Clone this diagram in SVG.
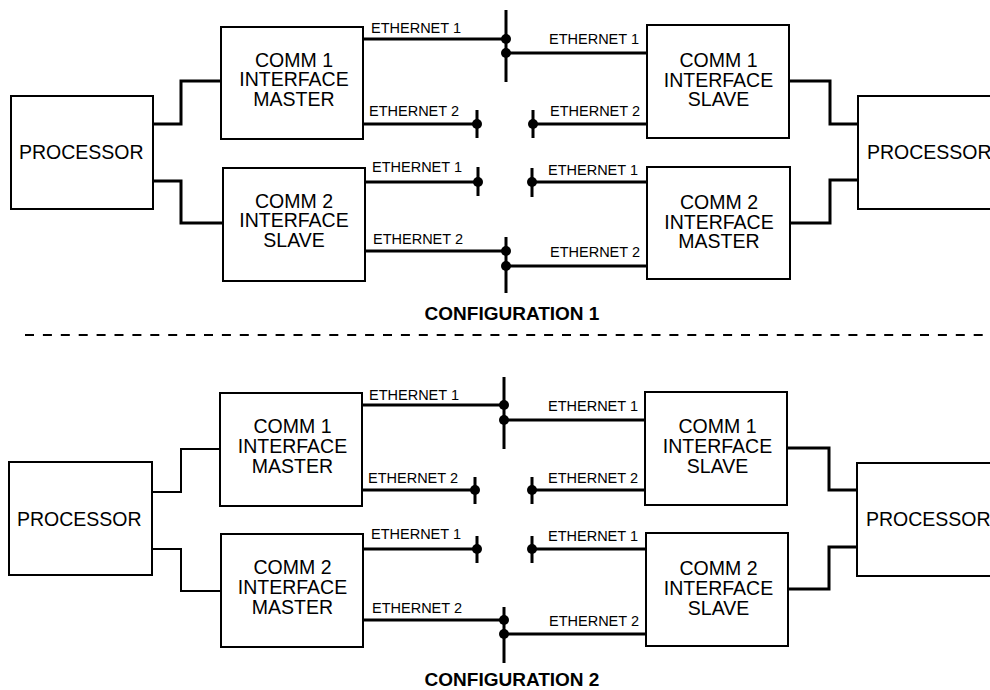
<svg xmlns="http://www.w3.org/2000/svg" width="990" height="690" viewBox="0 0 990 690">
  <style>
    .box { fill: #fff; stroke: #000; stroke-width: 2; }
    .wire { fill: none; stroke: #000; stroke-width: 3; }
    .thin { fill: none; stroke: #000; stroke-width: 2; }
    .dot { fill: #000; }
    .name { font-family: "Liberation Sans", Arial, sans-serif; font-size: 19.5px; text-anchor: middle; fill: #000; }
    .proc { font-family: "Liberation Sans", Arial, sans-serif; font-size: 19.5px; fill: #000; }
    .eth { font-family: "Liberation Sans", Arial, sans-serif; font-size: 14.5px; fill: #000; }
    .title { font-family: "Liberation Sans", Arial, sans-serif; font-size: 19px; font-weight: bold; text-anchor: middle; fill: #000; }
    .divider { stroke: #000; stroke-width: 2; stroke-dasharray: 9 8.9; }
  </style>
  <rect width="990" height="690" fill="#fff"/>

  <!-- ===== Configuration 1 ===== -->
  <g id="c1-connectors">
    <!-- processor to interfaces, left -->
    <path class="wire" d="M153,124 H181 V81 H221"/>
    <path class="wire" d="M153,181 H181 V223 H223"/>
    <!-- processor to interfaces, right -->
    <path class="wire" d="M789,81 H830 V124 H858"/>
    <path class="wire" d="M790,223 H830 V180 H858"/>
    <!-- ethernet 1, linked -->
    <path class="wire" d="M363,39 H506"/>
    <path class="wire" d="M506,10 V82"/>
    <path class="wire" d="M506,53 H647"/>
    <circle class="dot" cx="506" cy="39" r="5"/>
    <circle class="dot" cx="506" cy="53" r="5"/>
    <!-- ethernet 2, open -->
    <path class="wire" d="M363,124 H477 M477,110 V138"/>
    <circle class="dot" cx="477" cy="124" r="5"/>
    <path class="wire" d="M533,110 V138 M533,124 H647"/>
    <circle class="dot" cx="533" cy="124" r="5"/>
    <!-- ethernet 1, open -->
    <path class="wire" d="M365,182 H478 M478,167 V196"/>
    <circle class="dot" cx="478" cy="182" r="5"/>
    <path class="wire" d="M532,168 V197 M532,182 H647"/>
    <circle class="dot" cx="532" cy="182" r="5"/>
    <!-- ethernet 2, linked -->
    <path class="wire" d="M365,251 H506"/>
    <path class="wire" d="M506,237 V293"/>
    <path class="wire" d="M506,266 H647"/>
    <circle class="dot" cx="506" cy="251" r="5"/>
    <circle class="dot" cx="506" cy="266" r="5"/>
  </g>
  <g id="c1-labels">
    <text class="eth" x="371" y="33">ETHERNET 1</text>
    <text class="eth" x="369" y="116">ETHERNET 2</text>
    <text class="eth" x="372" y="172">ETHERNET 1</text>
    <text class="eth" x="373" y="244">ETHERNET 2</text>
    <text class="eth" x="549" y="44">ETHERNET 1</text>
    <text class="eth" x="550" y="116">ETHERNET 2</text>
    <text class="eth" x="548" y="175">ETHERNET 1</text>
    <text class="eth" x="550" y="257">ETHERNET 2</text>
  </g>
  <g id="c1-processor-left">
    <rect class="box" x="11" y="96" width="142" height="113"/>
    <text class="proc" x="19" y="159">PROCESSOR</text>
  </g>
  <g id="c1-comm1-master">
    <rect class="box" x="221" y="27" width="142" height="112"/>
    <text class="name" x="294" y="66.5">COMM 1</text>
    <text class="name" x="294" y="86">INTERFACE</text>
    <text class="name" x="294" y="105.5">MASTER</text>
  </g>
  <g id="c1-comm2-slave">
    <rect class="box" x="223" y="168" width="142" height="113"/>
    <text class="name" x="294" y="207.5">COMM 2</text>
    <text class="name" x="294" y="227">INTERFACE</text>
    <text class="name" x="294" y="246.5">SLAVE</text>
  </g>
  <g id="c1-comm1-slave">
    <rect class="box" x="647" y="25" width="142" height="113"/>
    <text class="name" x="718.5" y="66.5">COMM 1</text>
    <text class="name" x="718.5" y="86.5">INTERFACE</text>
    <text class="name" x="718.5" y="106">SLAVE</text>
  </g>
  <g id="c1-comm2-master">
    <rect class="box" x="647" y="167" width="143" height="112"/>
    <text class="name" x="719" y="208.5">COMM 2</text>
    <text class="name" x="719" y="228.5">INTERFACE</text>
    <text class="name" x="719" y="248">MASTER</text>
  </g>
  <g id="c1-processor-right">
    <rect class="box" x="858" y="96" width="142" height="113"/>
    <text class="proc" x="867" y="159">PROCESSOR</text>
  </g>
  <text class="title" x="512" y="320">CONFIGURATION 1</text>

  <!-- section divider -->
  <line class="divider" x1="25" y1="335" x2="985" y2="335"/>

  <!-- ===== Configuration 2 ===== -->
  <g id="c2-connectors">
    <path class="thin" d="M152,492 H181 V449 H220"/>
    <path class="thin" d="M152,549 H181 V591 H221"/>
    <path class="wire" d="M787,448 H829 V490 H857"/>
    <path class="wire" d="M788,589 H829 V547 H857"/>
    <!-- ethernet 1, linked -->
    <path class="wire" d="M362,405 H504"/>
    <path class="wire" d="M504,377 V449"/>
    <path class="wire" d="M504,420 H645"/>
    <circle class="dot" cx="504" cy="405" r="5"/>
    <circle class="dot" cx="504" cy="420" r="5"/>
    <!-- ethernet 2, open -->
    <path class="wire" d="M362,490 H475 M475,477 V504"/>
    <circle class="dot" cx="475" cy="490" r="5"/>
    <path class="wire" d="M532,477 V504 M532,490 H645"/>
    <circle class="dot" cx="532" cy="490" r="5"/>
    <!-- ethernet 1, open -->
    <path class="wire" d="M363,549 H477 M477,536 V563"/>
    <circle class="dot" cx="477" cy="549" r="5"/>
    <path class="wire" d="M532,536 V563 M532,549 H646"/>
    <circle class="dot" cx="532" cy="549" r="5"/>
    <!-- ethernet 2, linked -->
    <path class="wire" d="M363,620 H504"/>
    <path class="wire" d="M504,607 V663"/>
    <path class="wire" d="M504,634 H646"/>
    <circle class="dot" cx="504" cy="620" r="5"/>
    <circle class="dot" cx="504" cy="634" r="5"/>
  </g>
  <g id="c2-labels">
    <text class="eth" x="369" y="400">ETHERNET 1</text>
    <text class="eth" x="368" y="483">ETHERNET 2</text>
    <text class="eth" x="371" y="539">ETHERNET 1</text>
    <text class="eth" x="372" y="613">ETHERNET 2</text>
    <text class="eth" x="548" y="411">ETHERNET 1</text>
    <text class="eth" x="548" y="483">ETHERNET 2</text>
    <text class="eth" x="548" y="541">ETHERNET 1</text>
    <text class="eth" x="549" y="626">ETHERNET 2</text>
  </g>
  <g id="c2-processor-left">
    <rect class="box" x="9" y="462" width="143" height="113"/>
    <text class="proc" x="17" y="526">PROCESSOR</text>
  </g>
  <g id="c2-comm1-master">
    <rect class="box" x="220" y="393" width="142" height="113"/>
    <text class="name" x="292.5" y="432.5">COMM 1</text>
    <text class="name" x="292.5" y="452.5">INTERFACE</text>
    <text class="name" x="292.5" y="472.5">MASTER</text>
  </g>
  <g id="c2-comm2-master">
    <rect class="box" x="221" y="534" width="142" height="113"/>
    <text class="name" x="292.5" y="574">COMM 2</text>
    <text class="name" x="292.5" y="594">INTERFACE</text>
    <text class="name" x="292.5" y="614">MASTER</text>
  </g>
  <g id="c2-comm1-slave">
    <rect class="box" x="645" y="392" width="142" height="113"/>
    <text class="name" x="717.5" y="432.5">COMM 1</text>
    <text class="name" x="717.5" y="452.5">INTERFACE</text>
    <text class="name" x="717.5" y="472.5">SLAVE</text>
  </g>
  <g id="c2-comm2-slave">
    <rect class="box" x="646" y="533" width="142" height="113"/>
    <text class="name" x="718.5" y="574.5">COMM 2</text>
    <text class="name" x="718.5" y="594.5">INTERFACE</text>
    <text class="name" x="718.5" y="614.5">SLAVE</text>
  </g>
  <g id="c2-processor-right">
    <rect class="box" x="857" y="463" width="142" height="113"/>
    <text class="proc" x="866" y="526">PROCESSOR</text>
  </g>
  <text class="title" x="512" y="686">CONFIGURATION 2</text>
</svg>
